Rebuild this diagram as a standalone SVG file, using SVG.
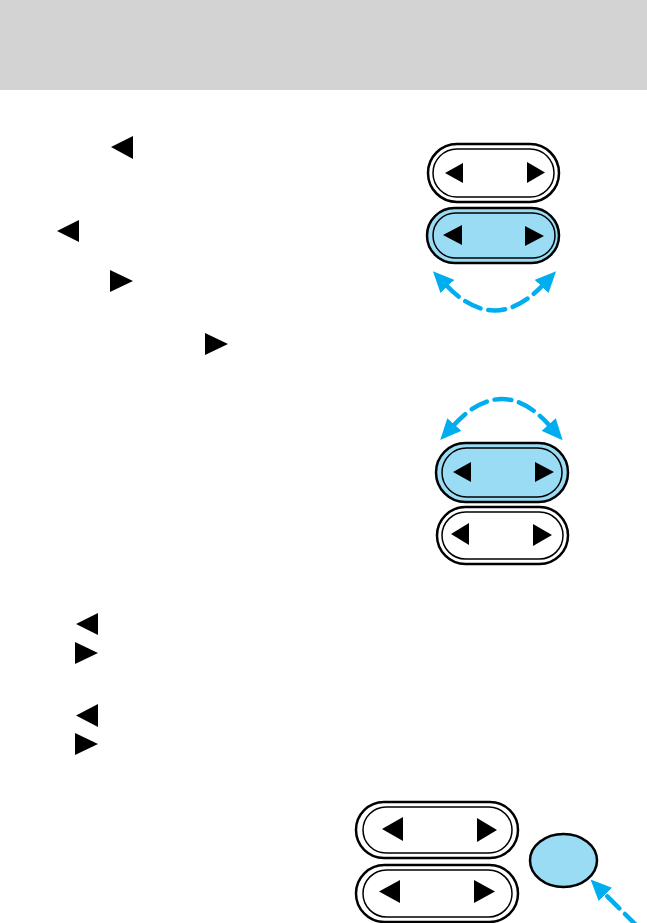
<svg xmlns="http://www.w3.org/2000/svg" width="647" height="923" viewBox="0 0 647 923">
<defs>
<style>
.outer{stroke:#000;stroke-width:2.5}
.inner{stroke:#000;stroke-width:1.5}
.w{fill:#fff}
.b{fill:#9bdcf5}
.tri{fill:#000}
.arc{fill:none;stroke:#00aeef;stroke-width:4.5;stroke-dasharray:17 8;stroke-linecap:round}
</style>
<marker id="ah" markerUnits="userSpaceOnUse" viewBox="0 0 21 19" refX="2" refY="9.5" markerWidth="21" markerHeight="19" orient="auto-start-reverse">
<path d="M0,0 L21,9.5 L0,19 z" fill="#00aeef"/>
</marker>
</defs>
<rect x="0" y="0" width="647" height="90" fill="#d3d3d3"/>
<g id="text-symbols">
<polygon class="tri" points="111,147 133,136 133,159"/>
<polygon class="tri" points="57,231 79,220 79,242"/>
<polygon class="tri" points="133,281 110,270 110,292"/>
<polygon class="tri" points="228,344 205,333 205,355"/>
<polygon class="tri" points="76,624 98,613 98,635"/>
<polygon class="tri" points="98,653 75,642 75,664"/>
<polygon class="tri" points="76,715.5 98,704 98,727"/>
<polygon class="tri" points="98,744 75,733 75,755"/>
</g>
<g id="button1">
<rect class="outer w" x="428" y="144" width="131" height="58" rx="29"/>
<rect class="inner w" x="433" y="149" width="121" height="48" rx="24"/>
<polygon class="tri" points="445,173 463,163 463,183"/>
<polygon class="tri" points="545,172.5 527,162 527,183"/>
</g>
<g id="button2">
<rect class="outer b" x="427" y="208" width="132" height="55" rx="27.5"/>
<rect class="inner b" x="433" y="213" width="122" height="45" rx="22.5"/>
<polygon class="tri" points="443,235 462,225 462,245"/>
<polygon class="tri" points="544,236 525,226 525,246"/>
</g>
<g id="button3">
<rect class="outer b" x="436" y="443" width="132" height="59" rx="29.5"/>
<rect class="inner b" x="442" y="448" width="120" height="49" rx="24.5"/>
<polygon class="tri" points="453,472 471,462 471,482"/>
<polygon class="tri" points="554,472 535,462 535,482"/>
</g>
<g id="button4">
<rect class="outer w" x="437" y="507" width="131" height="57" rx="28.5"/>
<rect class="inner w" x="442" y="512" width="121" height="47" rx="23.5"/>
<polygon class="tri" points="451,534 469,523 469,545"/>
<polygon class="tri" points="552,535 533,524 533,546"/>
</g>
<g id="button5">
<rect class="outer w" x="356" y="802" width="162" height="56" rx="28"/>
<rect class="inner w" x="363" y="807" width="149" height="46" rx="23"/>
<polygon class="tri" points="382,829 403,817 403,841"/>
<polygon class="tri" points="497,830 477,818 477,842"/>
</g>
<g id="button6">
<rect class="outer w" x="356" y="865" width="162" height="57" rx="28.5"/>
<rect class="inner w" x="363" y="870" width="149" height="47" rx="23.5"/>
<polygon class="tri" points="379,891.5 400,880 400,903"/>
<polygon class="tri" points="495,891.5 474,880 474,903"/>
</g>
<g id="round-button">
<ellipse cx="563.5" cy="860.5" rx="33.5" ry="26.5" fill="#9bdcf5" stroke="#000" stroke-width="2.5"/>
</g>
<g id="connectors">
<path class="arc" d="M 446 285 Q 494.5 336 543 285" marker-start="url(#ah)" marker-end="url(#ah)"/>
<path class="arc" d="M 453 426 Q 502 372 550 426" marker-start="url(#ah)" marker-end="url(#ah)"/>
<path class="arc" d="M 637 926 L 604 893" marker-end="url(#ah)"/>
</g>
</svg>
